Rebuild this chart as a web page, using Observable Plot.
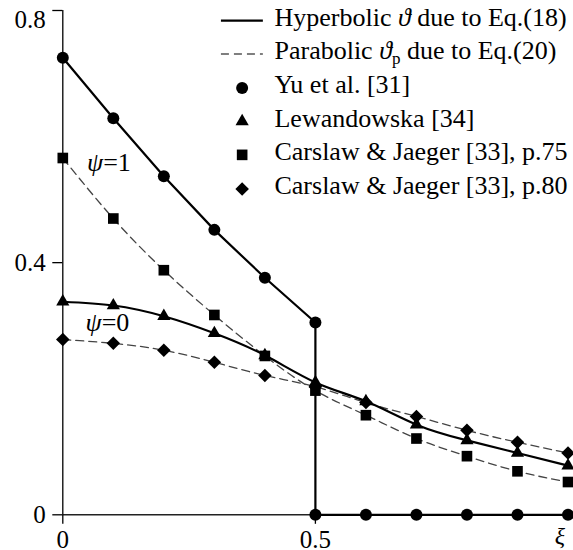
<!DOCTYPE html>
<html><head><meta charset="utf-8">
<script src="https://cdn.jsdelivr.net/npm/d3@7"></script>
<script src="https://cdn.jsdelivr.net/npm/@observablehq/plot@0.6"></script>
<style>
body{margin:0;background:#fff;}
#chart{width:573px;height:550px;}
#chart svg, #chart svg text{font-family:"Liberation Serif","Times New Roman",serif !important;}
</style>
</head><body><div id="chart"></div>
<script>
// positions ξ
const xi = [0, 0.1, 0.2, 0.3, 0.4, 0.5, 0.6, 0.7, 0.8, 0.9, 1.0];
// Yu et al. (hyperbolic, ψ=1) – wave front at ξ=0.5
const yuX = [0, 0.1, 0.2, 0.3, 0.4, 0.5, 0.5, 0.6, 0.7, 0.8, 0.9, 1.0];
const yuY = [0.725, 0.629, 0.537, 0.452, 0.376, 0.305, 0, 0, 0, 0, 0, 0];
// Lewandowska (hyperbolic, ψ=0)
const lewandowska = [0.338, 0.332, 0.315, 0.288, 0.253, 0.210, 0.180, 0.143, 0.118, 0.098, 0.078];
// Carslaw & Jaeger p.75 (parabolic, ψ=1)
const carslaw75 = [0.566, 0.470, 0.388, 0.317, 0.252, 0.197, 0.158, 0.121, 0.093, 0.069, 0.052];
// Carslaw & Jaeger p.80 (parabolic, ψ=0)
const carslaw80 = [0.278, 0.272, 0.261, 0.242, 0.221, 0.203, 0.178, 0.156, 0.134, 0.115, 0.098];

const xTicks = [0, 0.5];
const yTicks = [0, 0.4, 0.8];
const psiLabels = ["ψ=1", "ψ=0"];
const psiX = [0.048, 0.045];
const psiY = [0.559, 0.305];

const legendLabels = [
  "Hyperbolic ϑ due to Eq.(18)",
  "Parabolic ϑp due to Eq.(20)",
  "Yu et al. [31]",
  "Lewandowska [34]",
  "Carslaw & Jaeger [33], p.75",
  "Carslaw & Jaeger [33], p.80"
];
const legendSymbols = [null, null, "circle", "triangle", "square", "diamond2"];
const legendRowY = [0.784, 0.731, 0.677, 0.624, 0.571, 0.517];
const legendLineX = [0.314, 0.397];
const legendMarkX = 0.355;
const legendTextX = 0.419;

const FONT = "Liberation Serif";
const pts = (ys) => xi.map((x, i) => ({x, y: ys[i]}));
const yu = yuX.map((x, i) => ({x, y: yuY[i]}));
const symR = {circle: 6, triangle: 4.9, square: 6, diamond2: 6.1};

const legendRows = legendLabels.map((label, i) => ({label, sym: legendSymbols[i], y: legendRowY[i], i}));
const legendDots = ["circle", "triangle", "square", "diamond2"].map(s =>
  Plot.dot(legendRows.filter(d => d.sym === s), {x: () => legendMarkX, y: "y", symbol: s, r: symR[s], fill: "#000", stroke: "none"})
);
const dataDots = (data, s) => Plot.dot(data, {x: "x", y: "y", symbol: s, r: symR[s], fill: "#000", stroke: "none"});
const fmt = d => d === 0 ? "0" : d3.format(".1f")(d);

const plot = Plot.plot({
  width: 573,
  height: 550,
  marginLeft: 62.3,
  marginRight: 5.5,
  marginTop: 10,
  marginBottom: 35.7,
  x: {domain: [0, 1], axis: null},
  y: {domain: [0, 0.8], axis: null},
  style: {fontFamily: FONT, fontSize: "25px", color: "#000", background: "#fff", overflow: "visible"},
  marks: [
    // axes
    Plot.ruleX([0], {y1: 0, y2: 0.8, stroke: "#000", strokeWidth: 1.3}),
    Plot.ruleY([0], {x1: 0, x2: 1.012, stroke: "#222", strokeWidth: 1.6}),
    Plot.axisY({ticks: yTicks, tickSize: 10, label: null, tickFormat: () => "", strokeWidth: 1.3, stroke: "#000"}),
    Plot.axisY({ticks: [0, 0.4], tickSize: 0, tickPadding: 17, label: null, fontSize: 25, fontFamily: FONT, tickFormat: fmt}),
    Plot.axisY({ticks: [0.8], tickSize: 0, tickPadding: 17, label: null, fontSize: 25, fontFamily: FONT, dy: 9, tickFormat: fmt}),
    Plot.axisX({ticks: xTicks, tickSize: 9.5, tickPadding: 6, label: null, fontSize: 25, fontFamily: FONT, strokeWidth: 1.3, stroke: "#000", tickFormat: fmt}),
    Plot.axisX({ticks: [1], tickSize: 0, tickPadding: 12, label: null, fontSize: 24, fontFamily: FONT, dx: -8, tickFormat: () => "ξ"}),

    // parabolic (dashed)
    Plot.line(pts(carslaw75), {x: "x", y: "y", curve: "natural", stroke: "#444", strokeWidth: 1.3, strokeDasharray: "8,5"}),
    Plot.line(pts(carslaw80), {x: "x", y: "y", curve: "natural", stroke: "#444", strokeWidth: 1.3, strokeDasharray: "8,5"}),
    // hyperbolic (solid)
    Plot.line(pts(lewandowska), {x: "x", y: "y", curve: "natural", stroke: "#000", strokeWidth: 2.2}),
    Plot.line(yu, {x: "x", y: "y", curve: "linear", stroke: "#000", strokeWidth: 2.2}),

    // markers
    dataDots(pts(carslaw80), "diamond2"),
    dataDots(pts(carslaw75), "square"),
    dataDots(pts(lewandowska), "triangle"),
    dataDots(yu, "circle"),

    // ψ labels
    Plot.text(psiLabels, {x: (d, i) => psiX[i], y: (d, i) => psiY[i], text: d => d, textAnchor: "start", fontSize: 26, fontFamily: FONT, fill: "#000"}),

    // legend
    Plot.ruleY(legendRows.filter(d => d.i === 0), {x1: legendLineX[0], x2: legendLineX[1], y: "y", stroke: "#000", strokeWidth: 2.2}),
    Plot.ruleY(legendRows.filter(d => d.i === 1), {x1: legendLineX[0], x2: legendLineX[1], y: "y", stroke: "#555", strokeWidth: 1.3, strokeDasharray: "8,5"}),
    ...legendDots,
    Plot.text(legendRows, {x: () => legendTextX, y: "y", text: "label", textAnchor: "start", fontSize: 26, fontFamily: FONT, dy: -3, fill: "#000"})
  ]
});

plot.style.fontFamily = '"Liberation Serif", "Times New Roman", serif';

// rich text: italics and subscript
plot.querySelectorAll("text").forEach(t => {
  const s = t.textContent;
  if (s === "Hyperbolic ϑ due to Eq.(18)") {
    t.innerHTML = 'Hyperbolic <tspan font-style="italic">ϑ</tspan> due to Eq.(18)';
  } else if (s === "Parabolic ϑp due to Eq.(20)") {
    t.innerHTML = 'Parabolic <tspan font-style="italic">ϑ</tspan><tspan font-size="17" dy="5">p</tspan><tspan dy="-5"> due to Eq.(20)</tspan>';
  } else if (s === "ψ=1" || s === "ψ=0") {
    t.innerHTML = '<tspan font-style="italic">ψ</tspan>' + s.slice(1);
  } else if (s === "ξ") {
    t.setAttribute("font-style", "italic");
  }
});

document.getElementById("chart").appendChild(plot);
</script>
</body></html>
